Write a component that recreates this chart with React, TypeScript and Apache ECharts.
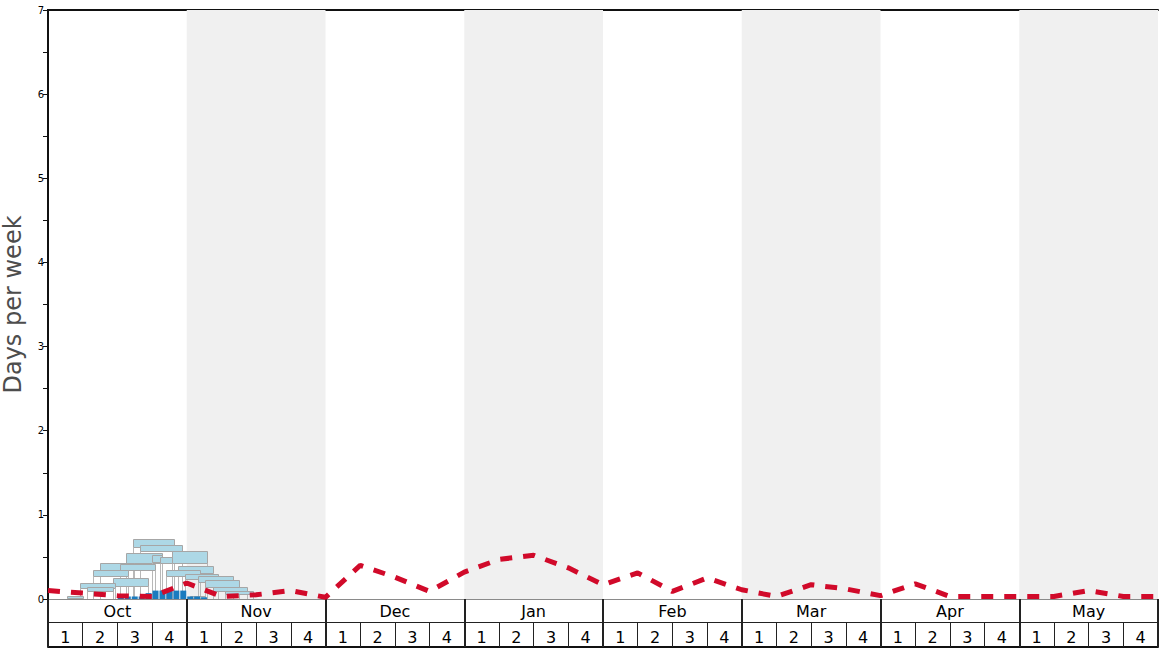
import React, { useEffect, useRef } from "react";
import * as echarts from "echarts";

const months = ["Oct", "Nov", "Dec", "Jan", "Feb", "Mar", "Apr", "May"];
const weekLabels = [
  "1", "2", "3", "4", "1", "2", "3", "4", "1", "2", "3", "4", "1", "2", "3", "4",
  "1", "2", "3", "4", "1", "2", "3", "4", "1", "2", "3", "4", "1", "2", "3", "4",
];
const yTicks = [0, 1, 2, 3, 4, 5, 6, 7];

// average days per week, sampled at each week boundary (0..32)
const avgDays = [
  0.10, 0.07, 0.04, 0.03, 0.19, 0.03, 0.05, 0.10, 0.02, 0.40, 0.26, 0.09, 0.32,
  0.47, 0.52, 0.37, 0.17, 0.31, 0.09, 0.25, 0.11, 0.03, 0.17, 0.12, 0.04, 0.18,
  0.03, 0.03, 0.03, 0.03, 0.10, 0.03, 0.03,
];

// observed bars: start (in weeks) and value
const barStart = [2.0, 2.2, 2.4, 2.6, 2.8, 3.0, 3.2, 3.4, 3.6, 3.8, 4.0, 4.2, 4.4];
const barValue = [0.03, 0.03, 0.03, 0.03, 0.07, 0.1, 0.1, 0.1, 0.1, 0.1, 0.03, 0.03, 0.02];

// past-season boxes: [startWeek, endWeek, low, bottom, top]
const boxStart = [2.45, 2.65, 3.57, 2.25, 3.0, 3.23, 1.5, 2.08, 3.75, 1.3, 3.4, 3.95, 4.32, 1.87, 4.53, 0.92, 1.12, 4.76, 5.1, 0.55, 4.09];
const boxEnd = [3.63, 3.86, 4.58, 3.29, 3.29, 3.57, 2.48, 3.08, 4.76, 2.31, 4.38, 4.9, 5.33, 2.88, 5.51, 1.93, 1.87, 5.74, 5.91, 1.01, 4.53];
const boxBottom = [0.62, 0.57, 0.43, 0.43, 0.44, 0.43, 0.34, 0.34, 0.31, 0.27, 0.27, 0.24, 0.2, 0.15, 0.14, 0.13, 0.1, 0.1, 0.06, 0.01, 0.01];
const boxTop = [0.71, 0.64, 0.57, 0.55, 0.52, 0.5, 0.43, 0.42, 0.39, 0.34, 0.34, 0.3, 0.27, 0.25, 0.23, 0.19, 0.14, 0.14, 0.1, 0.035, 0.03];
const boxLow = [0, 0, 0, 0, 0, 0, 0, 0, 0, 0, 0, 0, 0, 0, 0, 0, 0, 0, 0, 0, 0];

const shadedMonths = [1, 3, 5, 7];

const FONT = "DejaVu Sans";

export default function App() {
  const ref = useRef<HTMLDivElement>(null);
  useEffect(() => {
    document.body.style.margin = "0";
    if (!ref.current) return;
    const chart = echarts.init(ref.current, null, { renderer: "svg" });
    const boxes = boxStart.map((s, i) => [s, boxEnd[i], boxLow[i], boxBottom[i], boxTop[i]]);
    const bars = barStart.map((s, i) => [s + 0.1, barValue[i]]);
    const line = avgDays.map((v, i) => [i, v]);
    const hiddenAxis = {
      axisLine: { show: false },
      axisTick: { show: false },
      axisLabel: { show: false },
      splitLine: { show: false },
    };
    chart.setOption({
      animation: false,
      grid: { left: 48, top: 10, right: 10, bottom: 49, containLabel: false, outerBoundsMode: "none" },
      xAxis: [
        { type: "value", min: 0, max: 32, position: "bottom", ...hiddenAxis },
        {
          type: "category",
          data: months,
          position: "bottom",
          offset: 0,
          axisLine: { show: true, lineStyle: { color: "#8a8a8a", width: 1 } },
          axisTick: { show: true, interval: 0, length: 48, lineStyle: { color: "#222", width: 2 } },
          axisLabel: { interval: 0, fontSize: 16, color: "#000", margin: 4, fontFamily: FONT },
          splitLine: { show: false },
        },
        {
          type: "category",
          data: weekLabels,
          position: "bottom",
          offset: 23,
          axisLine: { show: true, lineStyle: { color: "#222", width: 1 } },
          axisTick: { show: true, interval: 0, length: 25, lineStyle: { color: "#222", width: 1 } },
          axisLabel: { interval: 0, fontSize: 16, color: "#000", margin: 7, fontFamily: FONT },
          splitLine: { show: false },
        },
        {
          type: "category",
          data: [""],
          position: "bottom",
          offset: 48,
          axisLine: { show: true, lineStyle: { color: "#111", width: 2 } },
          axisTick: { show: false },
          axisLabel: { show: false },
          splitLine: { show: false },
        },
        {
          type: "value",
          min: 0,
          max: 32,
          position: "top",
          axisLine: { show: true, lineStyle: { color: "#111", width: 2 } },
          axisTick: { show: false },
          axisLabel: { show: false },
          splitLine: { show: false },
        },
      ],
      yAxis: [
        {
          type: "value",
          min: 0,
          max: 7,
          interval: 0.5,
          position: "left",
          name: "Days per week",
          nameLocation: "middle",
          nameGap: 23,
          nameTextStyle: { fontSize: 24, color: "#4d4d4d", fontFamily: FONT },
          axisLine: { show: true, lineStyle: { color: "#111", width: 2 } },
          axisTick: { show: true, length: 5, lineStyle: { color: "#111", width: 1 } },
          axisLabel: {
            fontSize: 10,
            color: "#000",
            margin: 4,
            fontFamily: FONT,
            formatter: (v: number) => (yTicks.includes(v) ? String(v) : ""),
          },
          splitLine: { show: false },
        },
        {
          type: "value",
          min: 0,
          max: 7,
          position: "right",
          axisLine: { show: true, lineStyle: { color: "#111", width: 2 } },
          axisTick: { show: false },
          axisLabel: { show: false },
          splitLine: { show: false },
        },
      ],
      series: [
        {
          type: "line",
          xAxisIndex: 0,
          yAxisIndex: 0,
          data: [],
          silent: true,
          z: 0,
          markArea: {
            silent: true,
            itemStyle: { color: "#f0f0f0" },
            data: shadedMonths.map((m) => [{ xAxis: m * 4 }, { xAxis: m * 4 + 4 }]),
          },
        },
        {
          type: "custom",
          xAxisIndex: 0,
          yAxisIndex: 0,
          z: 2,
          data: boxes,
          encode: { x: [0, 1], y: [2, 3, 4] },
          renderItem: (params: any, api: any) => {
            const x0 = api.value(0);
            const x1 = api.value(1);
            const lo = api.value(2);
            const bo = api.value(3);
            const tp = api.value(4);
            const a = api.coord([x0, lo]);
            const b = api.coord([x0, bo]);
            const c = api.coord([x1, tp]);
            const d = api.coord([x1, lo]);
            const px0 = Math.round(a[0]) + 0.5;
            const px1 = Math.round(c[0]) + 0.5;
            const yb = Math.round(b[1]) + 0.5;
            const yt = Math.round(c[1]) + 0.5;
            return {
              type: "group",
              children: [
                { type: "line", shape: { x1: px0, y1: a[1], x2: px0, y2: yb }, style: { stroke: "#b8b8b8", lineWidth: 1 } },
                { type: "line", shape: { x1: px1, y1: d[1], x2: px1, y2: yb }, style: { stroke: "#b8b8b8", lineWidth: 1 } },
                {
                  type: "rect",
                  shape: { x: px0, y: yt, width: px1 - px0, height: Math.max(1, yb - yt) },
                  style: { fill: "#add8e6", stroke: "#a6a6a6", lineWidth: 1 },
                },
              ],
            };
          },
        },
        {
          type: "bar",
          xAxisIndex: 0,
          yAxisIndex: 0,
          z: 3,
          barWidth: 6,
          data: bars,
          itemStyle: { color: "#1a7bbf" },
        },
        {
          type: "line",
          xAxisIndex: 0,
          yAxisIndex: 0,
          z: 4,
          data: line,
          showSymbol: false,
          symbol: "none",
          lineStyle: { color: "#d10a2a", width: 5, type: [12, 11], cap: "butt" },
        },
      ],
    });
    return () => chart.dispose();
  }, []);
  return <div ref={ref} style={{ width: 1168, height: 648 }} />;
}
